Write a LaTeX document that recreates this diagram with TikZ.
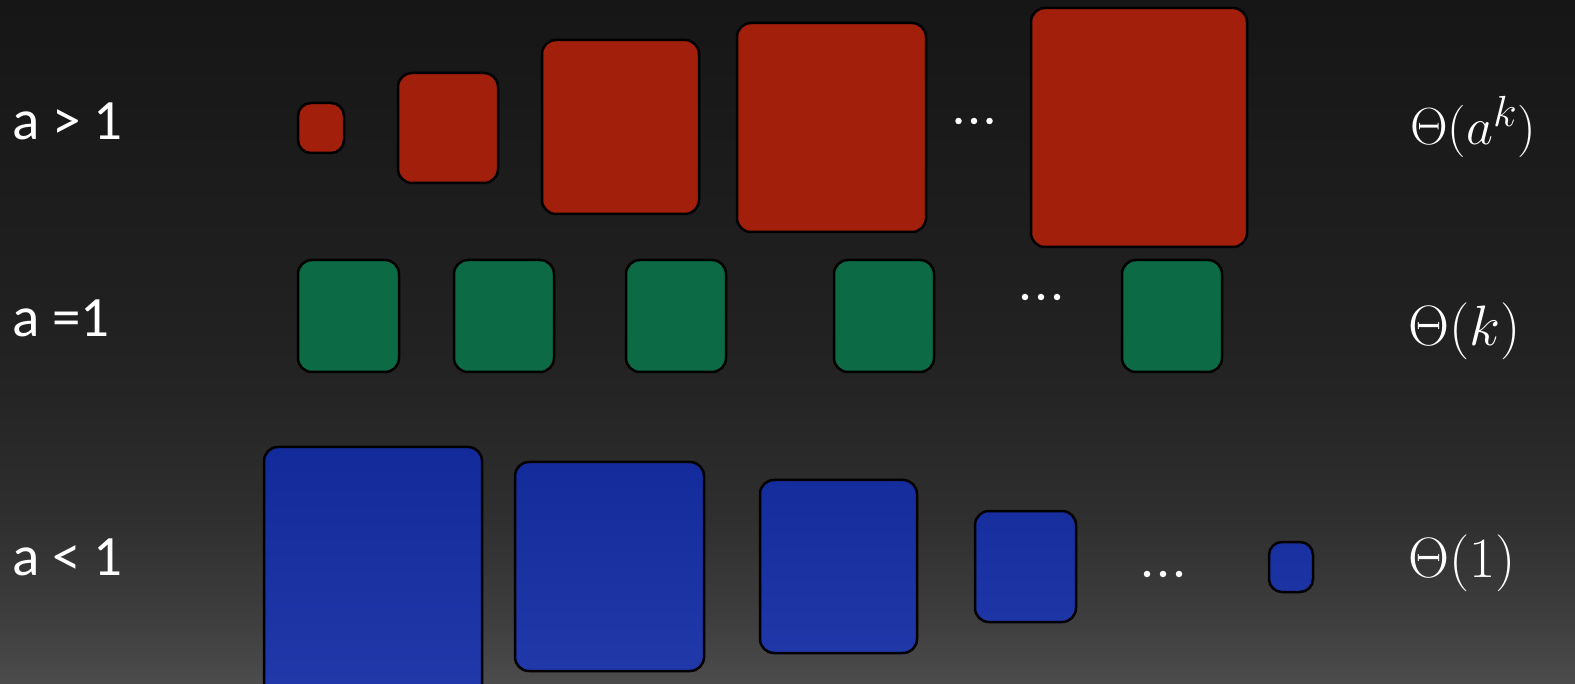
\documentclass[tikz,border=0pt]{standalone}
\usepackage{graphicx}
\usepackage{fontspec}
\setmainfont{Carlito}
\definecolor{c0}{HTML}{4C4C4C}
\definecolor{c1}{HTML}{3E3E3E}
\definecolor{c2}{HTML}{2F2F2F}
\definecolor{c3}{HTML}{242424}
\definecolor{c4}{HTML}{202020}
\definecolor{c5}{HTML}{1A1A1A}
\definecolor{c6}{HTML}{161616}
\definecolor{redf}{HTML}{A21F0C}
\definecolor{greenf}{HTML}{0C6B44}
\definecolor{blueA}{HTML}{132A9A}
\definecolor{blueB}{HTML}{2239AB}
\pgfdeclareverticalshading{bgshade}{100bp}{color(0bp)=(c0); color(25bp)=(c0); color(29.7bp)=(c1); color(37bp)=(c2); color(46.5bp)=(c3); color(53bp)=(c4); color(66bp)=(c5); color(75bp)=(c6); color(100bp)=(c6)}
\tikzset{
  box/.style={draw=black, line width=2.5pt, rounded corners=14pt, anchor=north west, inner sep=0pt, outer sep=0pt},
  smallbox/.style={rounded corners=13pt},
  redbox/.style={box, fill=redf},
  greenbox/.style={box, fill=greenf},
  bluebox/.style={box},
  lbl/.style={text=white, anchor=base west, inner sep=0pt, font=\fontsize{57}{62}\selectfont},
  res/.style={text=white, anchor=base west, inner sep=0pt},
  dot/.style={circle, fill=white, minimum size=6.5pt, inner sep=0pt},
}
\newcommand{\bigmath}[2]{\scalebox{#1}{\Huge$#2$}}
\begin{document}
\begin{tikzpicture}[x=1pt,y=-1pt]
\useasboundingbox (0,0) rectangle (1575,684);
\shade[shading=bgshade] (0,0) rectangle (1575,684);
% red row
\node[redbox, smallbox, minimum width=46pt, minimum height=50pt] (r1) at (298,103) {};
\node[redbox, minimum width=100pt, minimum height=110pt] (r2) at (398,73) {};
\node[redbox, minimum width=157pt, minimum height=174pt] (r3) at (542,40) {};
\node[redbox, minimum width=189pt, minimum height=209pt] (r4) at (737,23) {};
\node[redbox, minimum width=216pt, minimum height=239pt] (r5) at (1031,8) {};
\node[dot] (rd1) at (958.5,121) {};
\node[dot] (rd2) at (974,121) {};
\node[dot] (rd3) at (989.5,121) {};
% green row
\node[greenbox, minimum width=101pt, minimum height=112pt] (g1) at (298,260) {};
\node[greenbox, minimum width=100pt, minimum height=112pt] (g2) at (454,260) {};
\node[greenbox, minimum width=100pt, minimum height=112pt] (g3) at (626,260) {};
\node[greenbox, minimum width=100pt, minimum height=112pt] (g4) at (834,260) {};
\node[greenbox, minimum width=100pt, minimum height=112pt] (g5) at (1122,260) {};
\node[dot] (gd1) at (1025,297) {};
\node[dot] (gd2) at (1041,297) {};
\node[dot] (gd3) at (1057,297) {};
% blue row
\node[bluebox, top color=blueA, bottom color=blueB, minimum width=218pt, minimum height=253pt] (b1) at (264,447) {};
\node[bluebox, top color=blueB!6!blueA, bottom color=blueB!94!blueA, minimum width=189pt, minimum height=209pt] (b2) at (515,462) {};
\node[bluebox, top color=blueB!14!blueA, bottom color=blueB!87!blueA, minimum width=157pt, minimum height=173pt] (b3) at (760,480) {};
\node[bluebox, top color=blueB!27!blueA, bottom color=blueB!74!blueA, minimum width=101pt, minimum height=111pt] (b4) at (975,511) {};
\node[bluebox, smallbox, top color=blueB!40!blueA, bottom color=blueB!61!blueA, minimum width=44pt, minimum height=50pt] (b5) at (1269,542) {};
\node[dot] (bd1) at (1147,574) {};
\node[dot] (bd2) at (1163,574) {};
\node[dot] (bd3) at (1179,574) {};
% labels
\node[lbl] (l1) at (12,140) {a > 1};
\node[lbl] (l2) at (12,337) {a =1};
\node[lbl] (l3) at (12,575) {a < 1};
\node[res] (t1) at (1410,145) {\bigmath{2.1}{\Theta(a^{k})}};
\node[res] (t2) at (1408,346) {\bigmath{2.29}{\Theta(k)}};
\node[res] (t3) at (1408,577) {\bigmath{2.29}{\Theta(1)}};
\end{tikzpicture}
\end{document}
